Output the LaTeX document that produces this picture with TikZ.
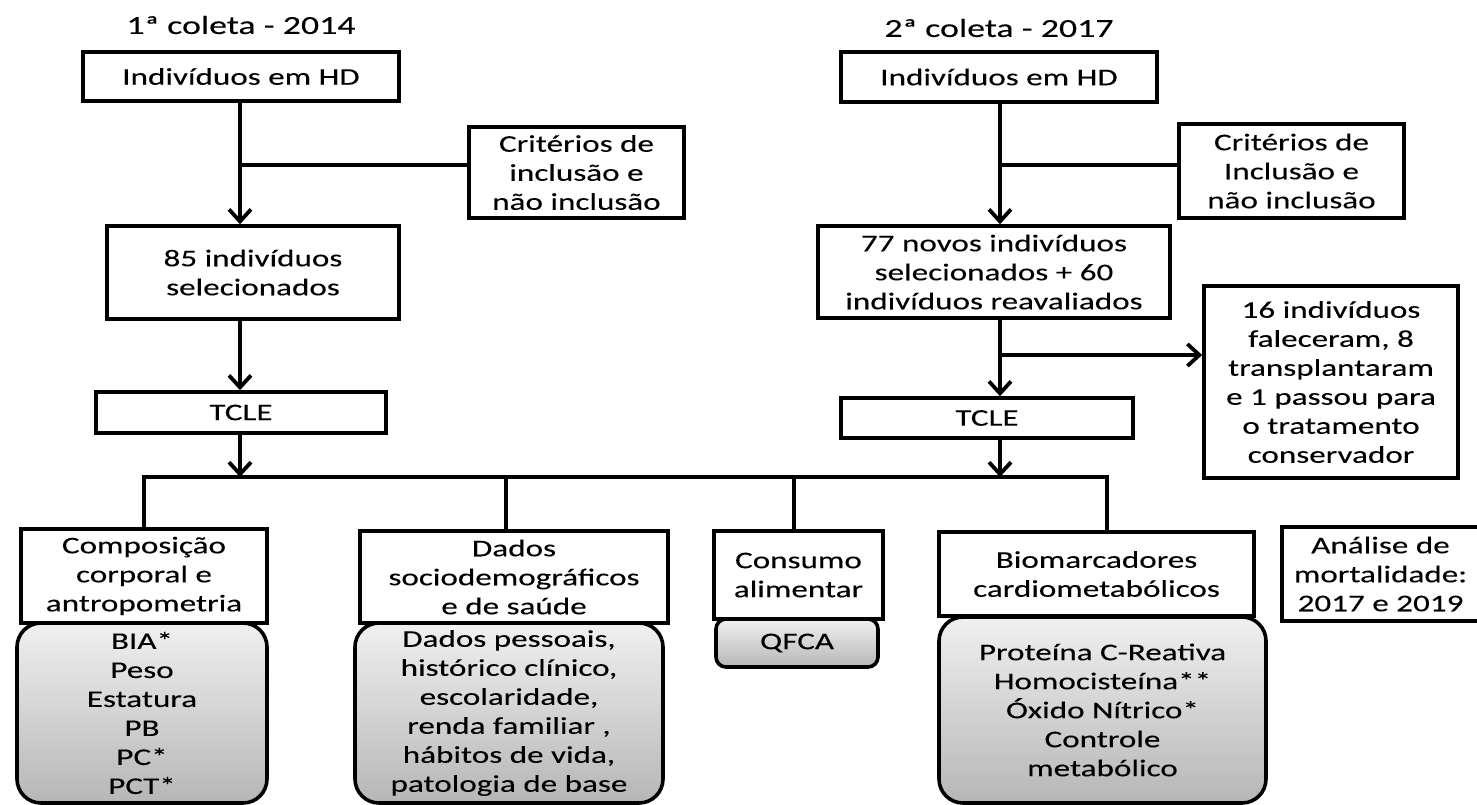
\documentclass[tikz,border=0pt]{standalone}
\usepackage{fontspec}
\setmainfont{Carlito}[FakeStretch=1.38,FakeBold=0.15]
\usetikzlibrary{arrows.meta}
\definecolor{gtop}{HTML}{F0F0F0}
\definecolor{gbot}{HTML}{B6B6B6}
\newcommand\fs{\fontsize{24}{29}\selectfont}
\tikzset{
  box/.style={draw, line width=3.6pt, align=center, inner sep=0pt, font=\fs},
  greybox/.style={box, rounded corners=24pt, top color=gtop, bottom color=gbot},
  ttl/.style={font=\fontsize{26}{30}\selectfont},
  ln/.style={line width=3.8pt},
  arr/.style={line width=3.8pt, -{Straight Barb[length=12pt,width=22pt]}}
}
\begin{document}
\begin{tikzpicture}[x=1pt,y=-1pt]
\useasboundingbox (0,0) rectangle (1477,804);
% titles
\node[ttl] (t1) at (241,25) {1ª coleta - 2014};
\node[ttl] (t2) at (999,28) {2ª coleta - 2017};
% left column
\node[box, minimum width=316pt, minimum height=49pt] (hd1) at (241,76.5) {Indivíduos em HD};
\node[box, minimum width=215pt, minimum height=91pt] (cr1) at (576.5,172.5) {Critérios de\\inclusão e\\não inclusão};
\node[box, minimum width=292pt, minimum height=93pt] (s85) at (253,272.5) {85 indivíduos\\selecionados};
\node[box, minimum width=290pt, minimum height=41pt] (tc1) at (241,412.5) {TCLE};
% right column
\node[box, minimum width=316pt, minimum height=50pt] (hd2) at (999,77) {Indivíduos em HD};
\node[box, minimum width=225pt, minimum height=94pt] (cr2) at (1291.5,171) {Critérios de\\Inclusão e\\não inclusão};
\node[box, minimum width=352pt, minimum height=92pt] (s77) at (994,272) {77 novos indivíduos\\selecionados + 60\\indivíduos reavaliados};
\node[box, minimum width=254pt, minimum height=192pt] (x16) at (1331,382) {16 indivíduos\\faleceram, 8\\transplantaram\\e 1 passou para\\o tratamento\\conservador};
\node[box, minimum width=292pt, minimum height=40pt] (tc2) at (987,418) {TCLE};
% bottom row
\node[greybox, minimum width=250pt, minimum height=180pt] (compg) at (142,713) {BIA*\\Peso\\Estatura\\PB\\PC*\\PCT*};
\node[box, fill=white, minimum width=246pt, minimum height=94pt] (comp) at (144,576) {Composição\\corporal e\\antropometria};
\node[greybox, minimum width=308pt, minimum height=180pt] (dadosg) at (509,713) {Dados pessoais,\\histórico clínico,\\escolaridade,\\renda familiar ,\\hábitos de vida,\\patologia de base};
\node[box, fill=white, minimum width=308pt, minimum height=92pt] (dados) at (514,577) {Dados\\sociodemográficos\\e de saúde};
\node[greybox, rounded corners=10pt, minimum width=162pt, minimum height=48pt] (qfca) at (797,643) {QFCA};
\node[box, fill=white, minimum width=169pt, minimum height=88pt] (cons) at (798.5,575) {Consumo\\alimentar};
\node[greybox, minimum width=327pt, minimum height=186pt] (biog) at (1102.5,710) {Proteína C-Reativa\\Homocisteína**\\Óxido Nítrico*\\Controle\\metabólico};
\node[box, fill=white, minimum width=315pt, minimum height=84pt] (bio) at (1096.5,574) {Biomarcadores\\cardiometabólicos};
\node[box, minimum width=197pt, minimum height=94pt] (anal) at (1380.5,574) {Análise de\\mortalidade:\\2017 e 2019};
% coordinates
\coordinate (bL1) at (240,165);
\coordinate (bR1) at (1000,165);
\coordinate (bR2) at (1000,355);
\coordinate (busL) at (144,477);
\coordinate (busR) at (1107,477);
\coordinate (busD) at (506,477);
\coordinate (busC) at (794,477);
% left connectors
\draw[arr] (hd1.south -| bL1) -- (s85.north -| bL1);
\draw[ln] (bL1) -- (cr1.west |- bL1);
\draw[arr] (s85.south -| bL1) -- (tc1.north -| bL1);
\draw[arr] (tc1.south -| bL1) -- (bL1 |- busL);
% right connectors
\draw[arr] (hd2.south -| bR1) -- (s77.north -| bR1);
\draw[ln] (bR1) -- (cr2.west |- bR1);
\draw[arr] (s77.south -| bR1) -- (tc2.north -| bR1);
\draw[arr] (bR2) -- (x16.west |- bR2);
\draw[arr] (tc2.south -| bR1) -- (bR1 |- busL);
% bus
\draw[ln] (comp.north -| busL) -- (busL) -- (busR) -- (bio.north -| busR);
\draw[ln] (busD) -- (dados.north -| busD);
\draw[ln] (busC) -- (cons.north -| busC);
\end{tikzpicture}
\end{document}
